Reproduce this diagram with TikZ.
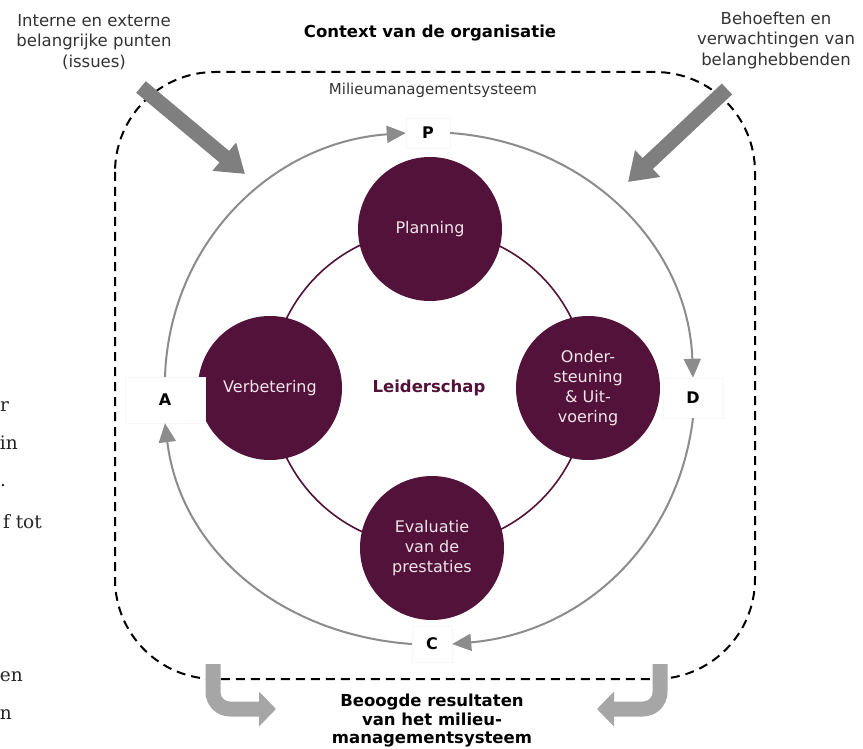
\documentclass[tikz,border=0pt]{standalone}
\usepackage{fontspec}
\setmainfont{DejaVu Sans}
\newfontfamily\fragfont{DejaVu Serif}
\usetikzlibrary{arrows.meta}
\definecolor{plum}{HTML}{521239}
\definecolor{arcgray}{HTML}{8C8C8C}
\definecolor{biggray}{HTML}{7F7F7F}
\definecolor{softgray}{HTML}{A6A6A6}
\definecolor{txt}{HTML}{333333}
\definecolor{circtxt}{HTML}{F0E4EC}
\begin{document}
\begin{tikzpicture}[x=1pt,y=-1pt,
  phase/.style={circle, fill=plum, minimum size=144pt, inner sep=0pt, text=circtxt, align=center, font=\fontsize{16}{20}\selectfont},
  lbl/.style={fill=white, draw=black!3, font=\bfseries\fontsize{16}{18}\selectfont, inner sep=0pt},
  cyc/.style={draw=arcgray, line width=2pt, -{Triangle[length=19pt,width=17pt]}},
  bigarrow/.style={draw=biggray, line width=15pt, -{Triangle[length=27pt,width=35pt]}},
  bentarrow/.style={draw=softgray, line width=15pt, rounded corners=17pt, -{Triangle[length=17pt,width=34pt]}},
  frame/.style={draw=black, line width=2pt, dash pattern=on 9pt off 6pt, rounded corners=100pt},
  note/.style={text=txt, align=center, font=\fontsize{16.5}{20.5}\selectfont},
  frag/.style={text=black!85, font=\fragfont\fontsize{18.5}{20}\selectfont, inner sep=0pt, anchor=base east}
]
\fill[white] (0,0) rectangle (863,749);
\useasboundingbox (0,0) rectangle (863,749);

% fragments of page text on the left
\node[frag, anchor=base west] (f1) at (0,411) {r};
\node[frag] (f2) at (18,449) {in};
\node[frag, anchor=base west] (f3) at (0,486) {.};
\node[frag] (f4) at (42,528) {f tot};
\node[frag] (f5) at (23,681) {en};
\node[frag] (f6) at (12,719) {n};

% dashed frame
\draw[frame] (115,72) rectangle (755,679);

% titles
\node[font=\bfseries\fontsize{16.5}{18}\selectfont] (ctx) at (430,33) {Context van de organisatie};
\node[text=txt, font=\fontsize{15}{17}\selectfont] (mms) at (433,90) {Milieumanagementsysteem};
\node[note] (issues) at (94,42) {Interne en externe\\belangrijke punten\\(issues)};
\node[note] (needs) at (776,40) {Behoeften en\\verwachtingen van\\belanghebbenden};

% big input arrows
\coordinate (i1) at (141,87); \coordinate (i2) at (245,174);
\coordinate (n1) at (727,89); \coordinate (n2) at (628,182);
\draw[bigarrow] (i1) -- (i2);
\draw[bigarrow] (n1) -- (n2);

% inner ring and phases
\node[circle, draw=plum, line width=1.6pt, minimum size=317pt, inner sep=0pt,
      text=plum, font=\bfseries\fontsize{16.5}{18}\selectfont] (ring) at (429,388) {Leiderschap};
\node[phase] (plan) at (430,229) {Planning};
\node[phase] (ond) at (588,388) {Onder-\\steuning\\\& Uit-\\voering};
\node[phase] (eval) at (432,548) {Evaluatie\\van de\\prestaties};
\node[phase] (verb) at (270,388) {Verbetering};

% PDCA labels
\node[lbl, minimum width=44pt, minimum height=30pt] (P) at (428,133) {P};
\node[lbl, minimum width=60pt, minimum height=40pt] (D) at (693,398) {D};
\node[lbl, minimum width=40pt, minimum height=36pt] (C) at (432,644) {C};
\node[lbl, minimum width=80pt, minimum height=46pt] (A) at (165,400) {A};

\draw[cyc] (A.north) to[out=88,in=184] (P.west);
\draw[cyc] (P.east) to[out=-4,in=92] (D.north);
\draw[cyc] (D.south) to[out=-97,in=5] (C.east);
\draw[cyc] (C.west) to[out=176,in=-83] (A.south);

% output arrows
\coordinate (o1) at (213,664); \coordinate (o2) at (276,709);
\coordinate (o3) at (660,664); \coordinate (o4) at (597,709);
\draw[bentarrow] (o1) |- (o2);
\draw[bentarrow] (o3) |- (o4);

\node[align=center, font=\bfseries\fontsize{16.5}{18.5}\selectfont] (res) at (432,721)
  {Beoogde resultaten\\van het milieu-\\managementsysteem};
\end{tikzpicture}
\end{document}
